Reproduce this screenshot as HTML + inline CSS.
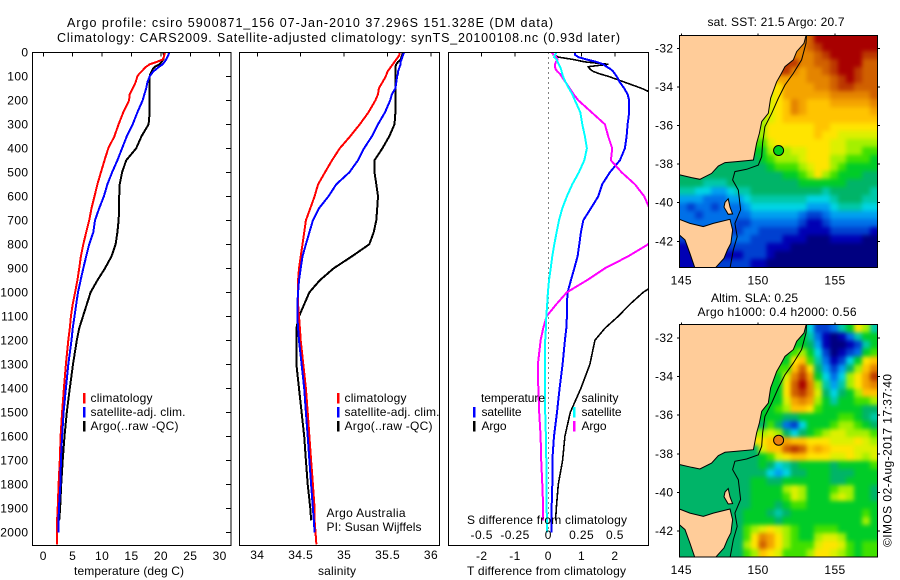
<!DOCTYPE html>
<html>
<head>
<meta charset="utf-8">
<title>Argo profile</title>
<style>
html,body{margin:0;padding:0;background:#fff;}
svg{display:block;font-family:"Liberation Sans",sans-serif;font-size:12px;fill:#000;}
</style>
</head>
<body>
<svg id="chart" xmlns="http://www.w3.org/2000/svg" width="900" height="580" viewBox="0 0 900 580">
<defs>
<clipPath id="clip-temp"><rect x="33" y="52" width="198" height="494"/></clipPath>
<clipPath id="clip-sal"><rect x="240" y="52" width="199" height="494"/></clipPath>
<clipPath id="clip-diff"><rect x="449" y="52" width="199" height="494"/></clipPath>
<clipPath id="clip-sst"><rect x="679.5" y="35" width="198" height="232.5"/></clipPath>
<clipPath id="clip-sla"><rect x="679.5" y="324.5" width="198" height="232.5"/></clipPath>
<filter id="cell-blur" x="-10%" y="-10%" width="120%" height="120%" color-interpolation-filters="sRGB"><feGaussianBlur stdDeviation="2.2"/></filter>
</defs>

<text x="67" y="27" font-size="12.5" textLength="486">Argo profile: csiro 5900871_156 07-Jan-2010 37.296S 151.328E (DM data)</text>
<text x="57" y="42" font-size="12.5" textLength="563">Climatology: CARS2009. Satellite-adjusted climatology: synTS_20100108.nc (0.93d later)</text>

<g id="temp-panel"></g>
<g id="sal-panel"></g>
<g id="diff-panel"></g>

<text x="74" y="575" textLength="110">temperature (deg C)</text>
<text x="318" y="575" textLength="38">salinity</text>
<text x="467" y="575" textLength="159">T difference from climatology</text>
<text x="467" y="524" textLength="160">S difference from climatology</text>

<g>
<rect x="83" y="393" width="2.5" height="10.5" fill="#f00"/>
<rect x="83" y="407" width="2.5" height="10.5" fill="#00f"/>
<rect x="83" y="421" width="2.5" height="10.5" fill="#000"/>
<text x="90.5" y="402" textLength="62">climatology</text>
<text x="90.5" y="416" textLength="95">satellite-adj. clim.</text>
<text x="90.5" y="430" textLength="88">Argo(..raw -QC)</text>
</g>
<g>
<rect x="337" y="393" width="2.5" height="10.5" fill="#f00"/>
<rect x="337" y="407" width="2.5" height="10.5" fill="#00f"/>
<rect x="337" y="421" width="2.5" height="10.5" fill="#000"/>
<text x="344.5" y="402" textLength="62">climatology</text>
<text x="344.5" y="416" textLength="95">satellite-adj. clim.</text>
<text x="344.5" y="430" textLength="88">Argo(..raw -QC)</text>
<text x="326.5" y="517" textLength="79">Argo Australia</text>
<text x="326.5" y="531" textLength="95">PI: Susan Wijffels</text>
</g>
<g>
<text x="481" y="402" textLength="64">temperature</text>
<rect x="473" y="407" width="2.5" height="10.5" fill="#00f"/>
<text x="481.5" y="416" textLength="40">satellite</text>
<rect x="473" y="421" width="2.5" height="10.5" fill="#000"/>
<text x="481.5" y="430" textLength="25">Argo</text>
<text x="581.5" y="402" textLength="37">salinity</text>
<rect x="573" y="407" width="2.5" height="10.5" fill="#0ff"/>
<text x="581.5" y="416" textLength="40">satellite</text>
<rect x="573" y="421" width="2.5" height="10.5" fill="#f0f"/>
<text x="581.5" y="430" textLength="25">Argo</text>
</g>

<g id="sst-map"></g>
<g id="sla-map"></g>

<text x="707.5" y="26" textLength="137">sat. SST: 21.5 Argo: 20.7</text>
<text x="711" y="302" textLength="87">Altim. SLA: 0.25</text>
<text x="697.5" y="316" textLength="159">Argo h1000: 0.4 h2000: 0.56</text>
<text transform="translate(891.5,547) rotate(-90)" textLength="173">©IMOS 02-Aug-2017 17:37:40</text>
</svg>

<script>
// ---------- profile data ----------
const depths = [0,10,20,30,40,50,60,70,80,90,
  100,125,150,175,200,
  250,300,350,400,450,500,
  550,600,650,700,750,800,
  850,900,950,1000,1050,1100,
  1150,1200,1300,1400,1500,1600,
  1700,1800,1900,1950,2000,2050];

const tempClimatology = [20.7,20.6,20.5,20.3,19.3,18.1,17.5,17.1,16.7,16.3,
  16.0,15.7,15.2,14.7,14.6,
  13.6,12.8,12.1,11.05,10.4,9.8,
  9.2,8.7,8.2,7.8,7.3,6.8,
  6.4,6.1,5.8,5.4,5.0,4.7,
  4.5,4.25,3.85,3.5,3.2,2.95,
  2.8,2.6,2.45,2.35,2.3,2.3];
const tempSatellite = [21.4,21.3,21.1,20.9,20.6,20.3,19.7,19.2,18.7,18.4,
  18.1,17.7,17.5,17.2,16.9,
  16,15.2,14.2,13.4,12.6,11.7,
  10.9,10.3,9.5,8.8,8.5,7.8,
  7.3,6.8,6.35,5.9,5.6,5.3,
  5,4.8,4.25,3.85,3.45,3.2,
  3,2.9,2.65,2.6,2.55,null];
const tempArgo = [20.4,20.5,20.5,20.4,20.1,19.8,19,18.6,18.4,18.2,
  18.1,18.1,18.1,18.1,18.1,
  18.1,17.9,16.7,15.8,14.1,13.4,
  13,12.9,12.9,12.8,12.6,12.3,
  11.6,10.5,9.2,8.05,7.4,6.75,
  6.1,5.7,5.05,4.5,4,3.6,
  3.3,3.05,2.85,2.7,null,null];

const salClimatology = [35.64,35.64,35.62,35.6,35.58,35.56,35.54,35.52,35.5,35.49,
  35.48,35.44,35.4,35.39,35.36,
  35.28,35.18,35.07,34.95,34.86,34.78,
  34.7,34.66,34.61,34.56,34.54,34.52,
  34.5,34.48,34.47,34.47,34.47,34.48,
  34.49,34.5,34.53,34.56,34.58,34.6,
  34.62,34.64,34.66,34.66,34.67,34.68];
const salSatellite = [35.69,35.68,35.67,35.66,35.65,35.65,35.64,35.63,35.62,35.62,
  35.61,35.6,35.59,35.55,35.53,
  35.47,35.39,35.32,35.23,35.16,35.06,
  34.91,34.82,34.71,34.64,34.6,34.56,
  34.52,34.5,34.48,34.47,34.46,34.46,
  34.47,34.48,34.51,34.54,34.56,34.58,
  34.6,34.62,34.64,34.65,34.66,null];
const salArgo = [35.67,35.67,35.66,35.65,35.62,35.6,35.59,35.59,35.59,35.59,
  35.59,35.59,35.59,35.59,35.59,
  35.59,35.58,35.52,35.44,35.35,35.35,
  35.37,35.39,35.38,35.37,35.34,35.29,
  35.09,34.88,34.72,34.6,34.54,34.48,
  34.45,34.45,34.45,34.48,34.51,34.54,
  34.56,34.58,34.61,34.62,null,null];

const diffTSatellite = [0.8,0.8,0.9,1.15,1.45,1.65,1.75,1.87,1.95,2,
  2.05,2.15,2.28,2.38,2.43,
  2.43,2.38,2.35,2.3,2.15,1.85,
  1.62,1.5,1.28,1.05,0.98,0.93,
  0.88,0.78,0.68,0.58,0.56,0.56,
  0.54,0.5,0.43,0.34,0.26,0.17,
  0.12,0.12,0.1,0.1,0.1,null];
const diffTArgo = [0.1,0.15,0.3,0.75,1.1,1.8,1.2,1.25,1.35,1.55,
  1.8,2.3,2.8,3.2,3.6,
  4.5,5,4.6,4.7,3.7,3.6,
  3.8,4.2,4.7,5,5.3,5.5,
  5.2,4.4,3.4,2.85,2.45,2.1,
  1.7,1.4,1.25,0.98,0.66,0.5,
  0.43,0.3,0.24,0.22,null,null];
const diffSSatellite = [0.0625,0.05,0.043,0.0625,0.07,0.078,0.088,0.095,0.1,0.105,
  0.11,0.13,0.155,0.18,0.2,
  0.24,0.255,0.275,0.29,0.27,0.23,
  0.18,0.14,0.105,0.08,0.0625,0.045,
  0.03,0.018,0.005,-0.003,-0.008,-0.015,
  -0.018,-0.023,-0.025,-0.025,-0.023,-0.018,
  -0.015,-0.013,-0.013,-0.01,-0.01,null];
const diffSArgo = [0.025,0.04,0.06,0.07,0.058,0.05,0.05,0.055,0.068,0.088,
  0.1,0.13,0.16,0.19,0.225,
  0.325,0.425,0.45,0.48,0.47,0.55,
  0.65,0.72,0.76,0.8,0.8,0.75,
  0.6,0.425,0.29,0.14,0.06,-0.013,
  -0.038,-0.058,-0.078,-0.075,-0.068,-0.058,
  -0.053,-0.045,-0.038,-0.038,null,null];

const depthTickValues = [0,100,200,300,400,500,600,700,800,900,1000,1100,1200,1300,1400,1500,1600,1700,1800,1900,2000];
const tempTickValues = [0,5,10,15,20,25,30];
const salTickValues = [34,34.5,35,35.5,36];
const diffTTickValues = [-2,-1,0,1,2];
const diffTTickLabels = ['-2','-1','0','1','2'];
const diffSTickValues = [-0.5,-0.25,0,0.25,0.5];
const diffSTickLabels = ['-0.5','-0.25','0','0.25','0.5'];
const lonTickValues = [145,150,155];
const latTickValues = [-32,-34,-36,-38,-40,-42];

// ---------- map data: one character per grid cell, colour level 0..i, '.' = under land ----------
const sstRows = [
"...............fgiiiiiiii",
"...............fghiiiiiii",
"...............ffghiiiihh",
"..............hffgghiiigg",
".............hfeffghiihgg",
".............eeefffghihgg",
"............ceeeeffghhggg",
"...........bceeeeeefffffg",
"...........bcdfedddeeeeef",
"...........bcdfedddddddde",
"..........abcdddddddddddd",
"..........accccccddcccccc",
"..........accccccdccbbbbb",
"..........9bcccccccbbaaaa",
".........88ababbcccbbaa99",
".........789aaabcccaa9998",
".....7777778999abcca98888",
"7777777777777889aca988877",
"7776667777777778888887777",
"6655445667777777776777776",
"4443334456666666555677766",
"3233233345555555444566655",
"3323333334444443223444444",
"......3223333332112333333",
".......233222221111222221",
"22.....332222111000111100",
"11.....222211100000000000",
"11.....122210000000000000",
"11.....221100000000000000"
];
const slaRows = [
"...............8522368ca6",
"...............8631013688",
"..............88741001268",
".............89a852012389",
".............8cd9631258cd",
".............9dgc74247adf",
"............8bfhe8535aceh",
"............8cgifa646acef",
"............8cghfb7578add",
"............8befea868899a",
"...........89addc98888877",
"..........888778888899876",
"..........7973258889aa987",
"..........aba75789abbaaa9",
"..........cddeddcccbbbcba",
".........7bddghgdedcccbbb",
".....7777789bcddcccbbcbab",
"7777777777875678888788889",
"7777777777754577888777888",
"7777777778877888888778888",
"7777777778888aba8889aa887",
"77777777788889ba888aba887",
"7777777778887899888888888",
".......788876788888888898",
".......7888878888888888a8",
"77.....79abcba98899988888",
"77.....79cfeca988abba8888",
"77.....7acgeca999bccb9899",
"77.....79adcb999accba9899"
];
const colorLevels = {
  '0':'#000080','1':'#0000b4','2':'#0040d0','3':'#0070e8','4':'#00a0f0','5':'#00d4e4',
  '6':'#00c8a8','7':'#00b468','8':'#00cc28','9':'#40e000','a':'#a4f000','b':'#dcf000',
  'c':'#ffe400','d':'#ffc400','e':'#f4a400','f':'#e48400','g':'#d06000','h':'#bc3800','i':'#a80000'
};

// coast and isobath, lon/lat pairs
const mainlandLon = [153.16,152.98,152.51,152.29,151.75,151.46,151.20,150.81,150.66,150.23,150.08,149.90,149.69,148.60,147.84,147.41,146.97,146.21,145.67,144.91,144.7,144.7];
const mainlandLat = [-31.2,-31.74,-32.17,-32.60,-32.95,-33.38,-33.74,-34.59,-35.37,-35.80,-36.40,-36.92,-37.79,-37.87,-37.92,-38.10,-38.48,-38.79,-38.70,-38.56,-38.56,-31.2];
const tasmaniaLon = [144.7,145.56,146.43,147.08,148.17,148.34,148.23,148.0,147.78,147.19,145.89,145.56,145.24,144.87,144.7];
const tasmaniaLat = [-40.81,-41.07,-41.24,-41.07,-40.86,-41.41,-42.10,-42.45,-42.88,-43.4,-43.4,-42.62,-41.93,-41.67,-41.67];
const flindersLon = [147.84,148.05,148.17,148.34,148.05,147.78];
const flindersLat = [-39.98,-39.8,-40.23,-40.58,-40.6,-40.23];
const isobathLon = [153.16,153.11,152.83,152.29,151.75,151.31,150.88,150.44,150.29,150.23,150.01,149.25,148.49,148.34,148.71,148.86,148.49,148.64,148.38,148.17];
const isobathLat = [-31.2,-31.74,-32.60,-33.30,-33.90,-34.59,-35.37,-36.06,-36.92,-37.61,-38.05,-38.27,-38.39,-38.82,-39.34,-40.37,-41.07,-41.76,-42.45,-43.4];
const profileLon = [151.328];
const profileLat = [-37.296];

// ---------- axis functions ----------
const NS = 'http://www.w3.org/2000/svg';
const depthY = d => 52.3 + 0.24 * d;
const tempX = t => 43.3 + 5.88 * t;
const salX = s => 257.3 + (s - 34) * 86.85;
const diffTX = t => 548.3 + 33.3 * t;
const diffSX = s => 548.3 + 133.2 * s;
const lonX = lon => 681.3 + (lon - 145) * 15.37;
const sstLatY = lat => 48.3 + (-32 - lat) * 19.3;
const slaLatY = lat => 338 + (-32 - lat) * 19.3;

function mk(tag, parent) {
  const el = document.createElementNS(NS, tag);
  parent.appendChild(el);
  return el;
}
function profilePath(values, xFn) {
  let d = '', pen = false;
  values.forEach((v, i) => {
    if (v === null) { pen = false; return; }
    d += (pen ? 'L' : 'M') + xFn(v).toFixed(1) + ' ' + depthY(depths[i]).toFixed(1);
    pen = true;
  });
  return d;
}
function drawLine(g, values, xFn, color, clip, w) {
  const el = mk('path', g);
  el.setAttribute('d', profilePath(values, xFn));
  el.setAttribute('fill', 'none');
  el.setAttribute('stroke', color);
  el.setAttribute('stroke-width', w);
  el.setAttribute('shape-rendering', 'crispEdges');
  el.setAttribute('clip-path', 'url(#' + clip + ')');
  return el;
}
function line(g, x1, y1, x2, y2) {
  const el = mk('line', g);
  el.setAttribute('x1', x1);
  el.setAttribute('y1', y1);
  el.setAttribute('x2', x2);
  el.setAttribute('y2', y2);
  el.setAttribute('stroke', '#000');
  el.setAttribute('stroke-width', 1);
  el.setAttribute('shape-rendering', 'crispEdges');
  return el;
}
function label(g, txt, x, y, anchor) {
  const el = mk('text', g);
  el.setAttribute('x', x);
  el.setAttribute('y', y);
  el.setAttribute('text-anchor', anchor);
  el.setAttribute('letter-spacing', '0.4');
  el.textContent = txt;
  return el;
}
function frame(g, x, y, w, h) {
  const el = mk('rect', g);
  el.setAttribute('x', x);
  el.setAttribute('y', y);
  el.setAttribute('width', w);
  el.setAttribute('height', h);
  el.setAttribute('fill', 'none');
  el.setAttribute('stroke', '#000');
  el.setAttribute('stroke-width', 1);
  el.setAttribute('shape-rendering', 'crispEdges');
  return el;
}

// ---------- temperature panel ----------
const tempG = document.getElementById('temp-panel');
{
  const a = drawLine(tempG, tempArgo, tempX, '#000', 'clip-temp', 2);
  
  
  const c = drawLine(tempG, tempClimatology, tempX, '#f00', 'clip-temp', 2);
  
  
  const s = drawLine(tempG, tempSatellite, tempX, '#00f', 'clip-temp', 2);
  
  
  const f = frame(tempG, 32.5, 52.5, 198.5, 493);
  
  
  tempTickValues.forEach(t => {
    const tick = line(tempG, tempX(t), 52.5, tempX(t), 56.5);
    
    
    const tl = label(tempG, String(t), tempX(t), 560, 'middle');
    
    
  });
  depthTickValues.forEach(d => {
    const tick = line(tempG, 226, depthY(d), 231, depthY(d));
    
    
    const tl = label(tempG, String(d), 28.5, depthY(d) + 4, 'end');
    
    
  });
}

// ---------- salinity panel ----------
const salG = document.getElementById('sal-panel');
{
  const a = drawLine(salG, salArgo, salX, '#000', 'clip-sal', 2);
  
  
  const c = drawLine(salG, salClimatology, salX, '#f00', 'clip-sal', 2);
  
  
  const s = drawLine(salG, salSatellite, salX, '#00f', 'clip-sal', 2);
  
  
  const f = frame(salG, 239.5, 52.5, 200, 493);
  
  
  salTickValues.forEach(t => {
    const tick = line(salG, salX(t), 52.5, salX(t), 56.5);
    
    
    const tl = label(salG, String(t), salX(t), 559, 'middle');
    
    
  });
}

// ---------- difference panel ----------
const diffG = document.getElementById('diff-panel');
{
  const z = line(diffG, diffTX(0), 52.5, diffTX(0), 530);
  z.setAttribute('stroke-dasharray', '1 4');
  
  
  const a = drawLine(diffG, diffTArgo, diffTX, '#000', 'clip-diff', 1.6);
  
  
  const s = drawLine(diffG, diffTSatellite, diffTX, '#00f', 'clip-diff', 2);
  
  
  const m = drawLine(diffG, diffSArgo, diffSX, '#f0f', 'clip-diff', 2);
  
  
  const c = drawLine(diffG, diffSSatellite, diffSX, '#0ff', 'clip-diff', 2);
  
  
  const f = frame(diffG, 448.5, 52.5, 200, 493);
  
  
  diffTTickValues.forEach((t, i) => {
    if (t !== 0) {
      const tick = line(diffG, diffTX(t), 52.5, diffTX(t), 56.5);
      
      
    }
    const tl = label(diffG, diffTTickLabels[i], diffTX(t), 560, 'middle');
    
    
  });
  diffSTickValues.forEach((s2, i) => {
    const tl = label(diffG, diffSTickLabels[i], diffSX(s2), 539, 'middle');
    
    
  });
}

// ---------- maps ----------
const CELL_LON0 = 144.87, CELL_DLON = 0.5163, CELL_LAT0 = -31.31, CELL_DLAT = 0.415;
const EDGE_PAD = 10;
function polygonPoints(lons, lats, latY) {
  return lons.map((lo, i) => lonX(lo).toFixed(1) + ',' + latY(lats[i]).toFixed(1)).join(' ');
}
function polygonEl(g, lons, lats, latY) {
  const el = mk('polygon', g);
  el.setAttribute('points', polygonPoints(lons, lats, latY));
  el.setAttribute('fill', '#ffcc99');
  el.setAttribute('stroke', '#000');
  el.setAttribute('stroke-width', 1);
  return el;
}
// a cell hidden under land takes the colour of the next sea cell in its row
function cellChar(row, c) {
  for (let i = c; i < row.length; i++) {
    if (row[i] !== '.') return row[i];
  }
  return '8';
}
function drawMap(g, rows, latY, clip, top, bottom, circleFill, labelY) {
  const inner = mk('g', g);
  inner.setAttribute('clip-path', 'url(#' + clip + ')');
  
  
  const cells = mk('g', inner);
  cells.setAttribute('filter', 'url(#cell-blur)');
  
  
  rows.forEach((row, r) => {
    for (let c = 0; c < 25; c++) {
      const ch = cellChar(row, c);
      const lon = CELL_LON0 + c * CELL_DLON;
      const lat = CELL_LAT0 - r * CELL_DLAT;
      let x = lonX(lon), y = latY(lat);
      let w = CELL_DLON * 15.37 + 0.6, h = CELL_DLAT * 19.3 + 0.6;
      if (c === 0) { x -= EDGE_PAD; w += EDGE_PAD; }
      if (c === 24) { w += EDGE_PAD; }
      if (r === 0) { y -= EDGE_PAD; h += EDGE_PAD; }
      if (r === rows.length - 1) { h += EDGE_PAD; }
      const cell = mk('rect', cells);
      cell.setAttribute('x', x.toFixed(1));
      cell.setAttribute('y', y.toFixed(1));
      cell.setAttribute('width', w.toFixed(2));
      cell.setAttribute('height', h.toFixed(2));
      cell.setAttribute('fill', colorLevels[ch]);
      cell.setAttribute('shape-rendering', 'crispEdges');
      
      
    }
  });
  const main = polygonEl(inner, mainlandLon, mainlandLat, latY);
  
  
  const tas = polygonEl(inner, tasmaniaLon, tasmaniaLat, latY);
  
  
  const fl = polygonEl(inner, flindersLon, flindersLat, latY);
  
  
  const iso = mk('polyline', inner);
  iso.setAttribute('points', polygonPoints(isobathLon, isobathLat, latY));
  iso.setAttribute('fill', 'none');
  iso.setAttribute('stroke', '#000');
  iso.setAttribute('stroke-width', 1);
  
  
  const dot = mk('circle', inner);
  dot.setAttribute('cx', lonX(profileLon[0]).toFixed(1));
  dot.setAttribute('cy', latY(profileLat[0]).toFixed(1));
  dot.setAttribute('r', 5);
  dot.setAttribute('fill', circleFill);
  dot.setAttribute('stroke', '#000');
  dot.setAttribute('stroke-width', 1);
  
  
  const f = frame(g, 679.5, top, 198, bottom - top);
  
  
  lonTickValues.forEach(lo => {
    const tick = line(g, lonX(lo), top - 2, lonX(lo), top);
    
    
    const tl = label(g, String(lo), lonX(lo), labelY, 'middle');
    
    
  });
  latTickValues.forEach(la => {
    const t1 = line(g, 677, latY(la), 679.5, latY(la));
    
    
    const t2 = line(g, 877.5, latY(la), 880, latY(la));
    
    
    const tl = label(g, String(la), 673.5, latY(la) + 4, 'end');
    
    
  });
}
drawMap(document.getElementById('sst-map'), sstRows, sstLatY, 'clip-sst', 35.5, 267.5, '#00d020', 284.5);
drawMap(document.getElementById('sla-map'), slaRows, slaLatY, 'clip-sla', 324.5, 557, '#e88010', 574);
</script>
</body>
</html>
